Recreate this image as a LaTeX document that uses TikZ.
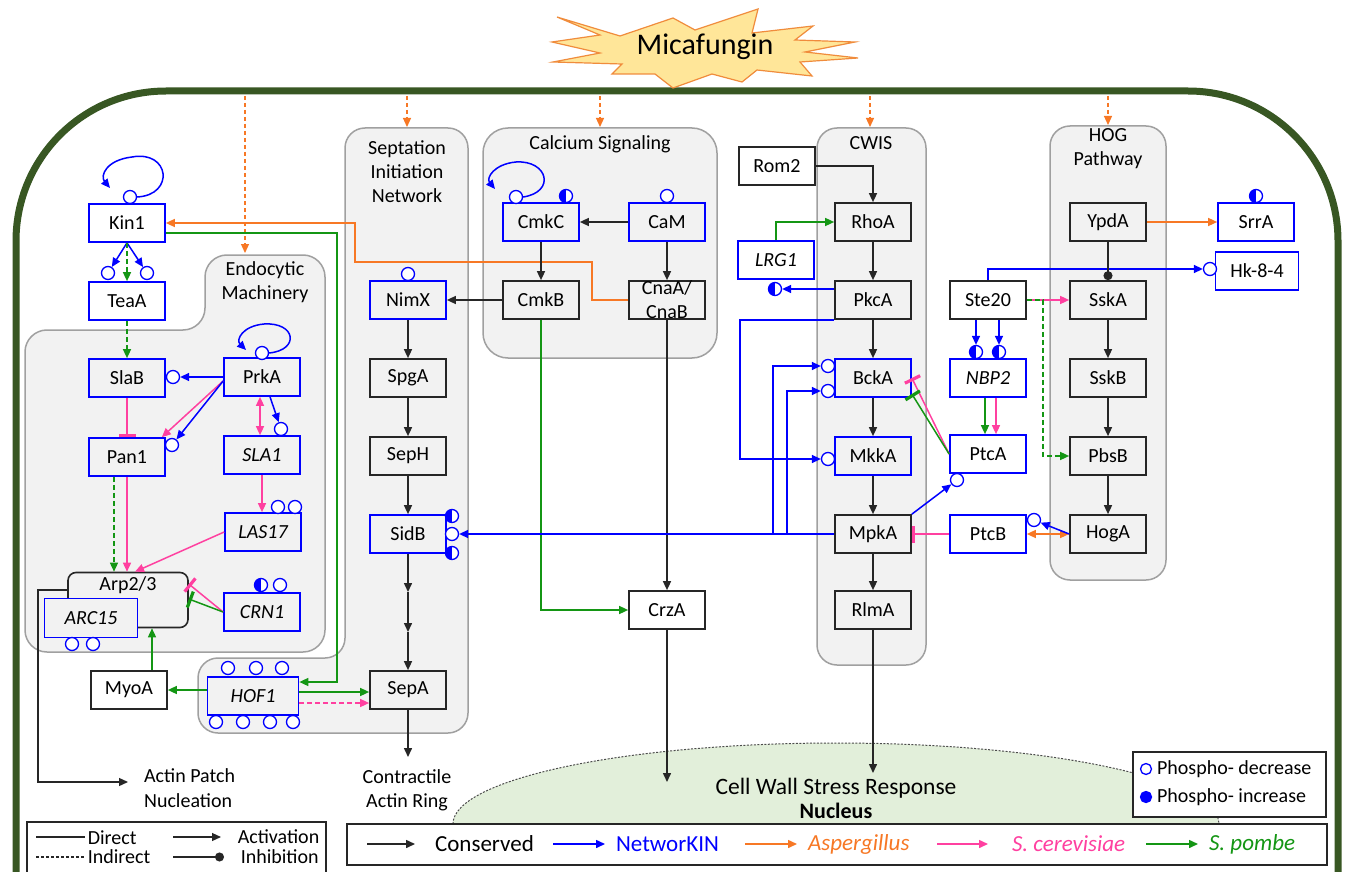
\documentclass[tikz,border=0pt]{standalone}
\usepackage{fontspec}
\setmainfont{Carlito}
\usetikzlibrary{arrows.meta}
\definecolor{cblue}{RGB}{0,0,255}
\definecolor{cpink}{RGB}{255,64,160}
\definecolor{corange}{RGB}{247,120,37}
\definecolor{cgreen}{RGB}{20,150,20}
\definecolor{cellc}{RGB}{56,87,35}
\definecolor{grpfill}{RGB}{242,242,242}
\definecolor{grpline}{RGB}{160,160,160}
\definecolor{nucfill}{RGB}{226,239,218}
\definecolor{starfill}{RGB}{255,230,153}
\definecolor{starline}{RGB}{240,140,60}
\newcommand\nf{\fontsize{20}{24}\selectfont}
\newcommand\lgf{\fontsize{20}{20}\selectfont}
\newcommand\bgf{\fontsize{23}{24}\selectfont}
\begin{document}
\begin{tikzpicture}[x=1pt,y=-1pt,
  line width=1.5pt,
  arr/.style={-{Triangle[length=9pt,width=8pt]}},
  darr/.style={{Triangle[length=9pt,width=8pt]}-{Triangle[length=9pt,width=8pt]}},
  inh/.style={-{Bar[width=17pt,line width=3.2pt]}},
  inhdot/.style={-{Circle[length=9pt]}},
  bl/.style={draw=cblue},
  pk/.style={draw=cpink},
  og/.style={draw=corange},
  gn/.style={draw=cgreen},
  kk/.style={draw=black!85},
  dsh/.style={dash pattern=on 5pt off 3pt},
  nb/.style={rectangle, draw, minimum width=76pt, minimum height=38pt, inner sep=1pt, font=\nf, line width=1.7pt},
  kb/.style={nb, draw=black!85, fill=white},
  kg/.style={nb, draw=black!85, fill=grpfill},
  bb/.style={nb, draw=cblue, fill=white},
  bg/.style={nb, draw=cblue, fill=grpfill},
  it/.style={font=\nf\itshape},
  oc/.style={circle, draw=cblue, fill=white, line width=1.3pt, minimum size=13pt, inner sep=0pt},
  hc/.style={oc, path picture={\fill[cblue] (path picture bounding box.south west) rectangle (path picture bounding box.north);}},
  grp/.style={draw=grpline, fill=grpfill, line width=1.5pt},
  ttl/.style={font=\nf, align=center},
]
\fill[white] (0,0) rectangle (1347,872);
\useasboundingbox (0,0) rectangle (1347,872);

% ---------- groups ----------
\draw[grp, rounded corners=22pt] (265,255) -- (325,255) -- (325,652) -- (25,652) -- (25,330) -- (205,330) -- (205,255) -- cycle;
\draw[grp, rounded corners=20pt] (407,128) -- (468,128) -- (468,733) -- (198,733) -- (198,658) -- (345,658) -- (345,128) -- cycle;
\draw[grp, rounded corners=25pt] (483,128) rectangle (717,358);
\draw[grp, rounded corners=20pt] (817,128) rectangle (926,665);
\draw[grp, rounded corners=20pt] (1050,126) rectangle (1166,580);

\node[ttl] (tEndo) at (265,282) {Endocytic\\Machinery};
\node[ttl] (tSep) at (407,172) {Septation\\Initiation\\Network};
\node[ttl] (tCal) at (600,144) {Calcium Signaling};
\node[ttl] (tCW) at (871,143) {CWIS};
\node[ttl] (tHOG) at (1108,149) {HOG\\Pathway};

% ---------- nucleus ----------
\draw[draw=black!70, line width=1pt, dash pattern=on 2pt off 1.5pt, fill=nucfill] (453,824) arc[start angle=180, end angle=360, x radius=383, y radius=81] -- cycle;
\node[font=\fontsize{23.5}{24}\selectfont] (nucT) at (836,788) {Cell Wall Stress Response};
\node[font=\fontsize{22}{24}\selectfont\bfseries] (nucN) at (836,811) {Nucleus};

% ---------- cell wall ----------
\draw[draw=cellc, line width=7pt, rounded corners=150pt] (16,895) -- (16,91) -- (1338,91) -- (1338,895);

% ---------- micafungin ----------
\draw[fill=starfill, draw=starline, line width=1.2pt]
 (557,17) -- (620,36) -- (673,18) -- (695,30) -- (758,9) -- (752,33) -- (813,26) -- (795,40)
 -- (855,42) -- (805,52) -- (858,58) -- (800,62) -- (812,76) -- (757,70) -- (742,82) -- (712,74)
 -- (673,88) -- (655,74) -- (612,74) -- (622,64) -- (553,62) -- (600,53) -- (552,42) -- (600,35) -- cycle;
\node[font=\fontsize{30}{34}\selectfont] (mica) at (705,47) {Micafungin};

\coordinate (o1s) at (245,96);  \coordinate (o1e) at (245,253);
\coordinate (o2s) at (407,96);  \coordinate (o2e) at (407,127);
\coordinate (o3s) at (600,96);  \coordinate (o3e) at (600,127);
\coordinate (o4s) at (870,96);  \coordinate (o4e) at (870,127);
\coordinate (o5s) at (1108,96); \coordinate (o5e) at (1108,125);
\foreach \i in {1,...,5} \draw[og, line width=1.2pt, dash pattern=on 4pt off 3pt, arr] (o\i s) -- (o\i e);

% ---------- nodes ----------
\node[bb] (Kin1) at (127,223) {Kin1};
\node[bb] (TeaA) at (127,301) {TeaA};
\node[bg] (SlaB) at (127,378) {SlaB};
\node[bg] (PrkA) at (262,377) {PrkA};
\node[bg] (Pan1) at (127,457) {Pan1};
\node[bg,it] (SLA1) at (262,455) {SLA1};
\node[bg,it] (LAS17) at (263,532) {LAS17};
\node[bg,it] (CRN1) at (262,612) {CRN1};
\node[draw=black!85, fill=grpfill, line width=1.6pt, rounded corners=8pt, minimum width=120pt, minimum height=55pt,
      label={[font=\nf, anchor=north, yshift=-1pt]north:Arp2/3}] (Arp) at (128,600) {};
\node[bg,it, minimum width=93pt, minimum height=39pt] (ARC15) at (91,618) {ARC15};
\node[kb] (MyoA) at (129,690) {MyoA};
\node[bg,it, minimum width=91pt] (HOF1) at (253,696) {HOF1};
\node[kg] (SepA) at (408,690) {SepA};
\node[bg] (NimX) at (408,300) {NimX};
\node[kg] (SpgA) at (408,378) {SpgA};
\node[kg] (SepH) at (408,456) {SepH};
\node[bg] (SidB) at (408,534) {SidB};
\node[bg] (CmkC) at (541,222) {CmkC};
\node[bg] (CaM) at (667,222) {CaM};
\node[kg] (CmkB) at (541,300) {CmkB};
\node[kg] (Cna) at (667,300) {};
\node[font=\fontsize{20}{24}\selectfont, align=center] (CnaT) at (667,300) {CnaA/\\CnaB};
\node[kb] (CrzA) at (667,610) {CrzA};
\node[kb] (Rom2) at (777,166) {Rom2};
\node[kg] (RhoA) at (873,222) {RhoA};
\node[bb,it] (LRG1) at (776,260) {LRG1};
\node[kg] (PkcA) at (873,300) {PkcA};
\node[kb] (Ste20) at (988,300) {Ste20};
\node[bg] (BckA) at (873,378) {BckA};
\node[bb,it] (NBP2) at (988,378) {NBP2};
\node[bg] (MkkA) at (873,456) {MkkA};
\node[bb] (PtcA) at (988,454) {PtcA};
\node[kg] (MpkA) at (873,534) {MpkA};
\node[bb] (PtcB) at (988,534) {PtcB};
\node[kg] (RlmA) at (873,610) {RlmA};
\node[kg] (YpdA) at (1108,222) {YpdA};
\node[bb] (SrrA) at (1256,222) {SrrA};
\node[bb, minimum width=83pt] (Hk) at (1257,271) {Hk-8-4};
\node[kg] (SskA) at (1108,300) {SskA};
\node[kg] (SskB) at (1108,378) {SskB};
\node[kg] (PbsB) at (1108,456) {PbsB};
\node[kg] (HogA) at (1108,534) {HogA};

% ---------- markers ----------
\node[oc] (mK1) at (130,197) {};
\node[oc] (mTa1) at (108,273) {};
\node[oc] (mTa2) at (147,273) {};
\node[oc] (mSl) at (173,377) {};
\node[oc] (mPr) at (262,353) {};
\node[oc] (mPa) at (172,445) {};
\node[oc] (mS1) at (281,429) {};
\node[oc] (mL1) at (278,507) {};
\node[oc] (mL2) at (295,507) {};
\node[hc] (mC1) at (261,585) {};
\node[oc] (mC2) at (280,585) {};
\node[oc] (mA1) at (72,644) {};
\node[oc] (mA2) at (93,644) {};
\node[oc] (mH1) at (228,668) {};
\node[oc] (mH2) at (256,668) {};
\node[oc] (mH3) at (282,668) {};
\node[oc] (mH4) at (216,722) {};
\node[oc] (mH5) at (243,722) {};
\node[oc] (mH6) at (270,722) {};
\node[oc] (mH7) at (293,722) {};
\node[oc] (mNx) at (408,274) {};
\node[hc] (mSb1) at (452,516) {};
\node[oc] (mSb2) at (452,534) {};
\node[hc] (mSb3) at (452,553) {};
\node[oc] (mCc1) at (516,197) {};
\node[hc] (mCc2) at (566,196) {};
\node[oc] (mCa) at (667,196) {};
\node[hc] (mLr) at (775,289) {};
\node[oc] (mBk1) at (828,366) {};
\node[oc] (mBk2) at (828,391) {};
\node[oc] (mMk) at (828,459) {};
\node[hc] (mNb1) at (976,352) {};
\node[hc] (mNb2) at (999,352) {};
\node[oc] (mPtA) at (957,480) {};
\node[oc] (mPtB) at (1034,520) {};
\node[oc] (mHk) at (1210,269) {};
\node[hc] (mSr) at (1256,196) {};

% ---------- edges: left ----------
\draw[bl,arr] (mK1.east) .. controls (175,195) and (170,150) .. (132,157) .. controls (106,160) and (100,176) .. (110,188);
\draw[bl,arr] (Kin1.south) -- (mTa1);
\draw[bl,arr] (Kin1.south) -- (mTa2);
\draw[gn,dsh,arr] (Kin1.south) -- (TeaA.north);
\draw[gn,dsh,arr] (TeaA.south) -- (SlaB.north);
\draw[og,arr] (Cna.west) -- (592,300) |- (355,262) |- (Kin1.east);
\draw[gn,arr] ([yshift=-10pt]Kin1.east) -| (337,682) -- ([yshift=14pt]HOF1.east);

\draw[bl,arr] (PrkA.west) -- (mSl);
\draw[bl,arr] (mPr.east) .. controls (300,350) and (296,322) .. (264,324) .. controls (242,326) and (236,340) .. (246,350);
\draw[pk,arr] ([yshift=-4pt]PrkA.west) -- ([xshift=-4pt]Pan1.north east);
\draw[bl,arr] ([yshift=-4pt]PrkA.west) -- (mPa);
\draw[pk,inh] (SlaB.south) -- (Pan1.north);
\draw[pk,darr] ([xshift=-2pt]PrkA.south) -- ([xshift=-2pt]SLA1.north);
\draw[bl,arr] ([xshift=8pt]PrkA.south) -- (mS1);
\draw[pk,arr] (SLA1.south) -- (SLA1.south |- LAS17.north);
\draw[gn,dsh,arr] ([xshift=-13pt]Pan1.south) -- ([xshift=-13pt]Pan1.south |- Arp.north);
\draw[pk,arr] (Pan1.south) -- (Pan1.south |- Arp.north);
\draw[pk,arr] (LAS17.west) -- ([xshift=7pt]Arp.north);
\draw[pk,inh] (CRN1.west) -- ([yshift=16pt]Arp.east);
\draw[gn,inh] (CRN1.west) -- ([yshift=1pt]Arp.east);
\draw[gn,arr] ([xshift=23pt]MyoA.north) -- ([xshift=23pt]MyoA.north |- Arp.south);
\draw[gn,arr] (HOF1.west |- MyoA.east) -- (MyoA.east);
\draw[gn,arr] ([yshift=4pt]HOF1.east) -- ([yshift=4pt]HOF1.east -| SepA.west);
\draw[pk,dsh,arr] ([yshift=-7pt]HOF1.east) -- ([yshift=-7pt]HOF1.east -| SepA.west);
\coordinate (apn) at (128,782);
\draw[kk,line width=1.3pt,arr] ([yshift=10pt]Arp.west) -- (38,590) |- (apn);
\node[font=\fontsize{20}{25}\selectfont, align=left, anchor=west] (apnT) at (140,788) {Actin Patch\\Nucleation};

% ---------- septation / calcium ----------
\draw[kk,arr] (CmkB.west) -- (NimX.east);
\draw[kk,arr] (NimX.south) -- (SpgA.north);
\draw[kk,arr] (SpgA.south) -- (SepH.north);
\draw[kk,arr] (SepH.south) -- (SidB.north);
\coordinate (c1) at (408,592);
\coordinate (c2) at (408,632);
\draw[kk,arr] (SidB.south) -- (c1);
\draw[kk,arr] (c1) -- (c2);
\draw[kk,arr] (c2) -- (SepA.north);
\coordinate (car) at (408,757);
\draw[kk,arr] (SepA.south) -- (car);
\node[font=\fontsize{20}{24}\selectfont, align=center] (carT) at (407,790) {Contractile\\Actin Ring};

\draw[kk,arr] (CaM.west) -- (CmkC.east);
\draw[kk,arr] (CmkC.south) -- (CmkB.north);
\draw[kk,arr] (CaM.south) -- (Cna.north);
\draw[bl,arr] (mCc1.east) .. controls (556,192) and (548,160) .. (516,162) .. controls (494,164) and (486,178) .. (495,189);
\draw[gn,arr] (CmkB.south) |- (CrzA.west);
\draw[kk,arr] (Cna.south) -- (CrzA.north);
\coordinate (nu1) at (667,782);
\draw[kk,arr] (CrzA.south) -- (nu1);

% ---------- CWIS ----------
\draw[kk,arr] (Rom2.east) -| (RhoA.north);
\draw[gn,arr] (LRG1.north) |- (RhoA.west);
\draw[bl,arr] ([yshift=11pt]PkcA.west) -- (mLr);
\draw[bl,arr] (PkcA.south west) -| (740,459) -- (mMk);
\draw[kk,arr] (RhoA.south) -- (PkcA.north);
\draw[kk,arr] (PkcA.south) -- (BckA.north);
\draw[kk,arr] (BckA.south) -- (MkkA.north);
\draw[kk,arr] (MkkA.south) -- (MpkA.north);
\draw[kk,arr] (MpkA.south) -- (RlmA.north);
\coordinate (nu2) at (873,773);
\draw[kk,arr] (RlmA.south) -- (nu2);
\draw[bl,arr] (MpkA.west) -- (mSb2);
\draw[bl,arr] (MpkA.west) -| (773,366) -- (mBk1);
\draw[bl,arr] (MpkA.west) -| (787,391) -- (mBk2);
\draw[bl,arr] (MpkA.north east) -- (mPtA);
\draw[pk,inh] (PtcB.west) -- (MpkA.east);
\draw[pk,inh] (PtcA.west) -- (BckA.east);
\draw[gn,inh] (PtcA.west) -- ([yshift=-16pt]BckA.east);
\draw[bl,arr] ([xshift=-12pt]Ste20.south) -- (mNb1);
\draw[bl,arr] ([xshift=11pt]Ste20.south) -- (mNb2);
\draw[gn,arr] ([xshift=-3pt]NBP2.south) -- ([xshift=-3pt]NBP2.south |- PtcA.north);
\draw[pk,arr] ([xshift=8pt]NBP2.south) -- ([xshift=8pt]NBP2.south |- PtcA.north);
\draw[bl,arr] (Ste20.north) |- (mHk);

% ---------- HOG ----------
\draw[kk,inhdot] (YpdA.south) -- (SskA.north);
\draw[og,arr] (YpdA.east) -- (SrrA.west);
\draw[pk,arr] (Ste20.east) -- (SskA.west);
\draw[gn,dsh,arr] (Ste20.east) -| (1043,456) -- (PbsB.west);
\draw[kk,arr] (SskA.south) -- (SskB.north);
\draw[kk,arr] (SskB.south) -- (PbsB.north);
\draw[kk,arr] (PbsB.south) -- (HogA.north);
\draw[og,darr] (HogA.west) -- (PtcB.east);
\draw[bl,arr] (HogA.west) -- (mPtB);

% ---------- legends ----------
\draw[draw=black!85, line width=1.3pt, fill=white] (1133,752) rectangle (1326,817);
\node[oc, minimum size=11pt] (lgo) at (1146,769) {};
\node[font=\lgf, anchor=west] (lgoT) at (1153,769) {Phospho- decrease};
\node[oc, fill=cblue, minimum size=11pt] (lgf) at (1146,797) {};
\node[font=\lgf, anchor=west] (lgfT) at (1153,797) {Phospho- increase};

\draw[draw=black!85, line width=1.3pt, fill=white] (347,824) rectangle (1327,865);
\draw[kk,arr] (367,844) -- (415,844);
\node[font=\bgf, anchor=west] (lg1) at (431,844) {Conserved};
\draw[bl,arr] (553,844) -- (605,844);
\node[font=\bgf, anchor=west, text=cblue] (lg2) at (612,844) {NetworKIN};
\draw[og,arr] (745,844) -- (797,844);
\node[font=\bgf\itshape, anchor=west, text=corange] (lg3) at (804,844) {Aspergillus};
\draw[pk,arr] (937,844) -- (988,844);
\node[font=\bgf\itshape, anchor=west, text=cpink] (lg4) at (1008,844) {S. cerevisiae};
\draw[gn,arr] (1146,844) -- (1198,844);
\node[font=\bgf\itshape, anchor=west, text=cgreen] (lg5) at (1205,844) {S. pombe};

\draw[draw=black!85, line width=1.3pt, fill=white] (27,822) rectangle (326,890);
\draw[kk, line width=1.2pt] (36,837) -- (85,837);
\node[font=\lgf, anchor=west, inner sep=1pt] (ld1) at (86,838) {Direct};
\draw[kk, line width=1.2pt, dash pattern=on 3pt off 2pt] (36,857) -- (85,857);
\node[font=\lgf, anchor=west, inner sep=1pt] (ld2) at (86,857) {Indirect};
\draw[kk, line width=1.2pt, arr] (173,837) -- (221,837);
\node[font=\lgf, anchor=west, inner sep=1pt] (ld3) at (236,837) {Activation};
\draw[kk, line width=1.2pt, inhdot] (173,857) -- (224,857);
\node[font=\lgf, anchor=west, inner sep=1pt] (ld4) at (239,857) {Inhibition};
\end{tikzpicture}
\end{document}
